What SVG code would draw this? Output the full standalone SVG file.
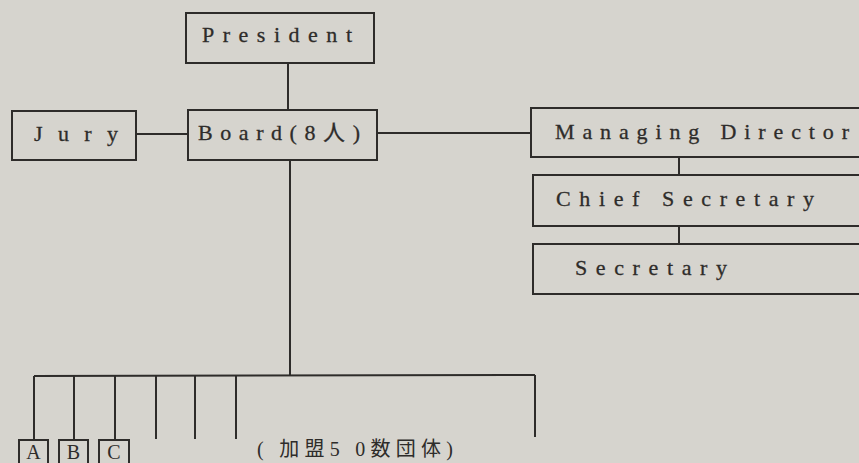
<svg xmlns="http://www.w3.org/2000/svg" width="859" height="463" viewBox="0 0 859 463">
<style>
.box{fill:none;stroke:#2e2c2a;stroke-width:2}
.ln{stroke:#2e2c2a;stroke-width:2;fill:none}
.t{font-family:"Liberation Serif","Noto Sans CJK JP",serif;font-size:22px;fill:#2e2c2a;stroke:#2e2c2a;stroke-width:0.3}
.s{font-family:"Liberation Serif","Noto Sans CJK JP",serif;font-size:20px;fill:#2e2c2a}
</style>
<rect width="859" height="463" fill="#d6d4ce"/>
<g id="connectors">
<line class="ln" x1="288" y1="63" x2="288" y2="110"/>
<line class="ln" x1="136" y1="134" x2="188" y2="134"/>
<line class="ln" x1="377" y1="133" x2="531" y2="133"/>
<line class="ln" x1="679" y1="157" x2="679" y2="175"/>
<line class="ln" x1="679" y1="226" x2="679" y2="244"/>
<line class="ln" x1="290" y1="160" x2="290" y2="376"/>
<line class="ln" x1="34" y1="376" x2="535" y2="375"/>
<line class="ln" x1="34" y1="376" x2="34" y2="440"/>
<line class="ln" x1="74" y1="376" x2="74" y2="440"/>
<line class="ln" x1="115" y1="376" x2="115" y2="440"/>
<line class="ln" x1="156" y1="376" x2="156" y2="439"/>
<line class="ln" x1="195" y1="376" x2="195" y2="439"/>
<line class="ln" x1="236" y1="376" x2="236" y2="439"/>
<line class="ln" x1="535" y1="375" x2="535" y2="437"/>
</g>
<g id="president">
<rect class="box" x="186" y="13" width="188" height="50"/>
<text class="t" x="202" y="42" textLength="150" lengthAdjust="spacing">President</text>
</g>
<g id="board">
<rect class="box" x="188" y="110" width="189" height="50"/>
<text class="t" x="198" y="140" textLength="162" lengthAdjust="spacing">Board(8人)</text>
</g>
<g id="jury">
<rect class="box" x="12" y="111" width="124" height="49"/>
<text class="t" x="34" y="141" textLength="84" lengthAdjust="spacing">Jury</text>
</g>
<g id="managing-director">
<rect class="box" x="531" y="108" width="340" height="49"/>
<text class="t" x="555" y="139" textLength="294" lengthAdjust="spacing">Managing Director</text>
</g>
<g id="chief-secretary">
<rect class="box" x="533" y="175" width="340" height="51"/>
<text class="t" x="556" y="206" textLength="258" lengthAdjust="spacing">Chief Secretary</text>
</g>
<g id="secretary">
<rect class="box" x="533" y="244" width="340" height="50"/>
<text class="t" x="575" y="275" textLength="152" lengthAdjust="spacing">Secretary</text>
</g>
<g id="a">
<rect class="box" x="19" y="440" width="29" height="26"/>
<text class="s" x="33.5" y="459" text-anchor="middle">A</text>
</g>
<g id="b">
<rect class="box" x="59" y="440" width="29" height="26"/>
<text class="s" x="73.5" y="459" text-anchor="middle">B</text>
</g>
<g id="c">
<rect class="box" x="99" y="440" width="30" height="26"/>
<text class="s" x="114" y="459" text-anchor="middle">C</text>
</g>
<g id="note">
<text class="s" x="257" y="456" textLength="196" lengthAdjust="spacing">( 加盟5 0数団体)</text>
</g>
</svg>
